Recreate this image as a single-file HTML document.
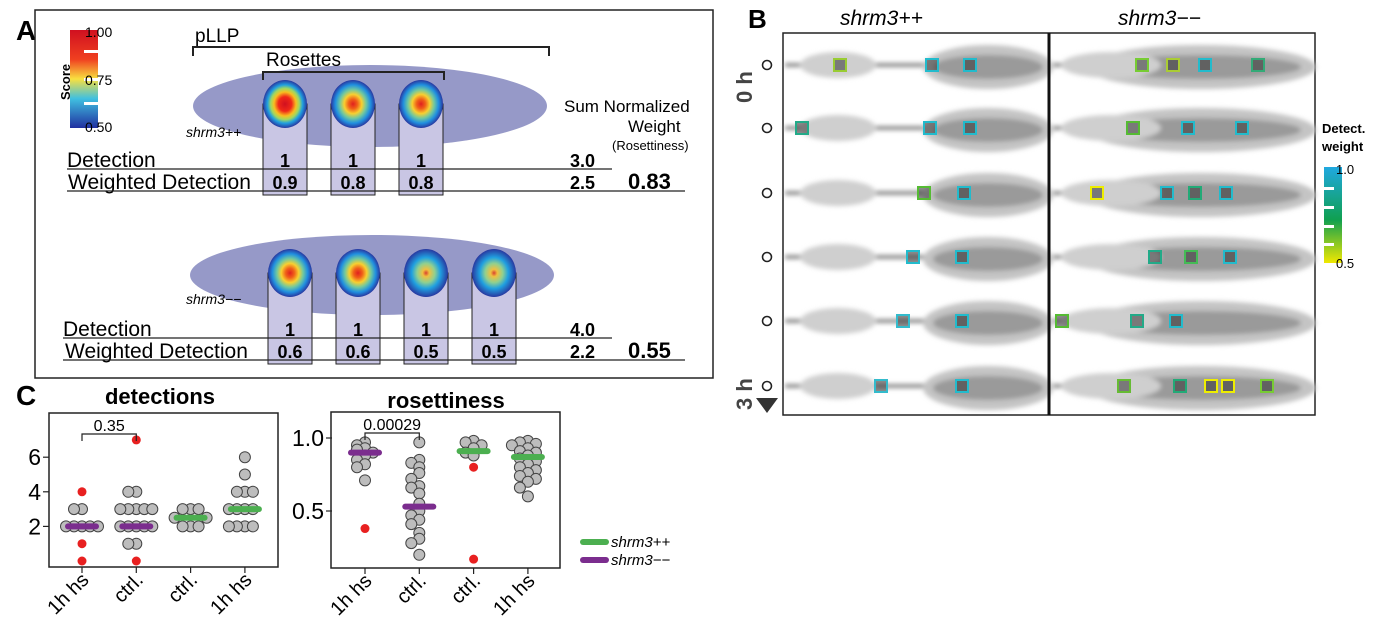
<!DOCTYPE html>
<html><head><meta charset="utf-8"><style>
body{margin:0;background:#fff}
svg{display:block;font-family:"Liberation Sans",sans-serif}
</style></head><body>
<svg id="fig" width="1383" height="626" viewBox="0 0 1383 626" xmlns="http://www.w3.org/2000/svg">
<defs>
<radialGradient id="heat" cx="50%" cy="50%" r="50%">
<stop offset="0" stop-color="#d01020"/><stop offset="0.3" stop-color="#f02818"/><stop offset="0.5" stop-color="#f8c020"/><stop offset="0.65" stop-color="#a0d860"/><stop offset="0.8" stop-color="#20a0e0"/><stop offset="1" stop-color="#2838a0"/></radialGradient>
<radialGradient id="heat2" cx="50%" cy="50%" r="50%">
<stop offset="0" stop-color="#e02020"/><stop offset="0.2" stop-color="#f06018"/><stop offset="0.4" stop-color="#f8d030"/><stop offset="0.6" stop-color="#70c8a0"/><stop offset="0.8" stop-color="#2090e0"/><stop offset="1" stop-color="#2838a0"/></radialGradient>
<radialGradient id="heat3" cx="50%" cy="50%" r="50%">
<stop offset="0" stop-color="#d84030"/><stop offset="0.15" stop-color="#f0c040"/><stop offset="0.4" stop-color="#90d090"/><stop offset="0.65" stop-color="#20a0e0"/><stop offset="1" stop-color="#2838a0"/></radialGradient>
<linearGradient id="scorebar" x1="0" y1="0" x2="0" y2="1">
<stop offset="0" stop-color="#d01020"/><stop offset="0.3" stop-color="#f04020"/><stop offset="0.5" stop-color="#f8e040"/><stop offset="0.7" stop-color="#40c0e0"/><stop offset="1" stop-color="#2030a0"/></linearGradient>
<linearGradient id="detbar" x1="0" y1="0" x2="0" y2="1">
<stop offset="0" stop-color="#20a8e0"/><stop offset="0.55" stop-color="#10a050"/><stop offset="1" stop-color="#f0e800"/></linearGradient>
<filter id="blur" x="-20%" y="-50%" width="140%" height="200%"><feGaussianBlur stdDeviation="2.5"/></filter>
</defs>

<text x="16" y="40" font-size="28" font-weight="bold">A</text>
<text x="748" y="28" font-size="26" font-weight="bold">B</text>
<text x="16" y="405" font-size="28" font-weight="bold">C</text>

<!-- Panel A -->
<g>
<rect x="35" y="10" width="678" height="368" fill="none" stroke="#222" stroke-width="1.5"/>
<ellipse cx="370" cy="106" rx="177" ry="41" fill="#9699c8"/>
<ellipse cx="372" cy="275" rx="182" ry="40" fill="#9699c8"/>
<g>
<rect x="70" y="30" width="28" height="98" fill="url(#scorebar)"/>
<rect x="84" y="50" width="14" height="3" fill="#fff"/><rect x="84" y="78" width="14" height="3" fill="#fff"/><rect x="84" y="102" width="14" height="3" fill="#fff"/>
<text x="85" y="37" font-size="14">1.00</text><text x="85" y="85" font-size="14">0.75</text><text x="85" y="132" font-size="14">0.50</text>
<text transform="translate(70,100) rotate(-90)" font-size="13" font-weight="bold">Score</text>
</g>
<text x="195" y="42" font-size="19">pLLP</text>
<path d="M193,56 V47 H549 V56" fill="none" stroke="#222" stroke-width="2"/>
<text x="266" y="66" font-size="19">Rosettes</text>
<path d="M263,80 V72 H444 V80" fill="none" stroke="#222" stroke-width="2"/>
<g id="aWT"></g><g id="aMUT"></g>
<text x="186" y="137" font-size="14" font-style="italic">shrm3++</text>
<text x="186" y="304" font-size="14" font-style="italic">shrm3−−</text>
<text x="564" y="112" font-size="17">Sum Normalized</text>
<text x="628" y="132" font-size="17">Weight</text>
<text x="612" y="150" font-size="13">(Rosettiness)</text>
<text x="67" y="167" font-size="21">Detection</text>
<line x1="67" y1="169" x2="612" y2="169" stroke="#222" stroke-width="1.2"/>
<text x="68" y="189" font-size="21">Weighted Detection</text>
<line x1="67" y1="191" x2="685" y2="191" stroke="#222" stroke-width="1.2"/>
<text x="570" y="167" font-size="18" font-weight="bold">3.0</text>
<text x="570" y="189" font-size="18" font-weight="bold">2.5</text>
<text x="628" y="189" font-size="22" font-weight="bold">0.83</text>
<text x="63" y="336" font-size="21">Detection</text>
<line x1="63" y1="338" x2="612" y2="338" stroke="#222" stroke-width="1.2"/>
<text x="65" y="358" font-size="21">Weighted Detection</text>
<line x1="63" y1="360" x2="685" y2="360" stroke="#222" stroke-width="1.2"/>
<text x="570" y="336" font-size="18" font-weight="bold">4.0</text>
<text x="570" y="358" font-size="18" font-weight="bold">2.2</text>
<text x="628" y="358" font-size="22" font-weight="bold">0.55</text>
</g>

<!-- Panel B -->
<g>
<text x="840" y="25" font-size="21" font-style="italic">shrm3++</text>
<text x="1118" y="25" font-size="21" font-style="italic">shrm3−−</text>
<rect x="783" y="33" width="532" height="382" fill="#fff" stroke="#222" stroke-width="1.5"/>
<g id="bImg"></g>
<line x1="1049" y1="33" x2="1049" y2="415" stroke="#111" stroke-width="3"/>
<g id="bLeft"></g>
<text transform="translate(752,103) rotate(-90)" font-size="22" font-weight="bold" fill="#444">0 h</text>
<text transform="translate(752,410) rotate(-90)" font-size="22" font-weight="bold" fill="#444">3 h</text>
<polygon points="756,398 778,398 767,413" fill="#333"/>
<g>
<text x="1322" y="133" font-size="13" font-weight="bold">Detect.</text>
<text x="1322" y="151" font-size="13" font-weight="bold">weight</text>
<rect x="1324" y="167" width="18" height="96" fill="url(#detbar)"/>
<rect x="1324" y="187" width="10" height="3" fill="#fff"/><rect x="1324" y="206" width="10" height="3" fill="#fff"/><rect x="1324" y="225" width="10" height="3" fill="#fff"/><rect x="1324" y="243" width="10" height="3" fill="#fff"/>
<text x="1336" y="174" font-size="13">1.0</text><text x="1336" y="268" font-size="13">0.5</text>
</g>
</g>

<!-- Panel C -->
<g id="panelC">
<text x="160" y="404" font-size="22" font-weight="bold" text-anchor="middle">detections</text>
<text x="446" y="408" font-size="22" font-weight="bold" text-anchor="middle">rosettiness</text>
<rect x="49" y="413" width="229" height="154" fill="none" stroke="#222" stroke-width="1.5"/>
<rect x="331" y="412" width="229" height="156" fill="none" stroke="#222" stroke-width="1.5"/>
<g id="cDet"></g><g id="cRos"></g>
<g>
<line x1="583" y1="542" x2="606" y2="542" stroke="#4caf50" stroke-width="6" stroke-linecap="round"/>
<text x="611" y="547" font-size="15" font-style="italic">shrm3++</text>
<line x1="583" y1="560" x2="606" y2="560" stroke="#7b2d8e" stroke-width="6" stroke-linecap="round"/>
<text x="611" y="565" font-size="15" font-style="italic">shrm3−−</text>
</g>
</g>
</svg>
<script>
const NS='http://www.w3.org/2000/svg';
function mk(tag,attrs,parent){const e=document.createElementNS(NS,tag);for(const k in attrs)e.setAttribute(k,attrs[k]);parent.appendChild(e);return e;}

const wtWeights=['0.9','0.8','0.8'];
const mutWeights=['0.6','0.6','0.5','0.5'];
function drawRosettes(g,weights,x0,step,cy,boxBottom,detY,wY,grads,label){
  weights.forEach((w,i)=>{
    const cx=x0+i*step;
    mk('rect',{x:cx-22,y:cy,width:44,height:boxBottom-cy,fill:'#c9c6e4',stroke:'#222','stroke-width':1},g);
    const c=mk('ellipse',{cx:cx,cy:cy,rx:22,ry:24,fill:'url(#'+grads[i]+')'},g);
    
    
    const t1=mk('text',{x:cx,y:detY,'font-size':18,'font-weight':'bold','text-anchor':'middle'},g);t1.textContent='1';
    const t2=mk('text',{x:cx,y:wY,'font-size':18,'font-weight':'bold','text-anchor':'middle'},g);t2.textContent=w;
  });
}
drawRosettes(document.getElementById('aWT'),wtWeights,285,68,104,195,167,189,['heat','heat2','heat2'],'wt');
drawRosettes(document.getElementById('aMUT'),mutWeights,290,68,273,364,336,358,['heat2','heat2','heat3','heat3'],'mut');

const rowY=[65,128,193,257,321,386];
const wtBoxes=[[[840,'#9c3'],[932,'#2bc'],[970,'#2bc']],[[802,'#2a8'],[930,'#2bc'],[970,'#2bc']],[[924,'#5b3'],[964,'#2bc']],[[913,'#2bc'],[962,'#2bc']],[[903,'#3bc'],[962,'#2bc']],[[881,'#3bc'],[962,'#2bc']]];
const mutBoxes=[[[1142,'#7c3'],[1173,'#ac3'],[1205,'#2bc'],[1258,'#3a7']],[[1133,'#5b3'],[1188,'#2bc'],[1242,'#2bc']],[[1097,'#ee0'],[1167,'#2bc'],[1195,'#2a7'],[1226,'#2bc']],[[1155,'#2a8'],[1191,'#4b5'],[1230,'#2bc']],[[1062,'#5b3'],[1137,'#2a8'],[1176,'#2bc']],[[1124,'#6b3'],[1180,'#2a7'],[1211,'#ee0'],[1228,'#ee0'],[1267,'#7c3']]];
const bImg=document.getElementById('bImg'),bLeft=document.getElementById('bLeft');
rowY.forEach((y,r)=>{
  [[783,1049],[1051,1315]].forEach(([a,b],k)=>{
    const g=mk('g',{filter:'url(#blur)'},bImg);
    mk('rect',{x:a+2,y:y-2,width:b-a-6,height:4,fill:'#8a8a8a'},g);
    mk('ellipse',{cx:a+(k?150:205),cy:y+2,rx:k?115:65,ry:22,fill:'#c4c4c4'},g);
    mk('ellipse',{cx:a+(k?150:205),cy:y+2,rx:k?100:55,ry:12,fill:'#9a9a9a'},g);
    mk('ellipse',{cx:a+(k?60:55),cy:y,rx:k?50:38,ry:13,fill:'#cfcfcf'},g);
  });
  const c=mk('circle',{cx:767,cy:y,r:4.5,fill:'none',stroke:'#222','stroke-width':1.6},bLeft);
  
  
  wtBoxes[r].concat(mutBoxes[r]).forEach(([x,col])=>{
    const s=mk('rect',{x:x-6,y:y-6,width:12,height:12,fill:'#333','fill-opacity':0.55,stroke:col,'stroke-width':2},bImg);
    
    
  });
});

// ---- Panel C data ----
const cats=['1h hs','ctrl.','ctrl.','1h hs'];
const detTicks=[2,4,6];
const rosTicks=[0.5,1.0];
const detGray=[[3,3,2,2,2,2,2],[4,4,3,3,3,3,3,2,2,2,2,2,1,1],[3,3,3,2,2,2,2.5,2.5],[6,5,4,4,4,3,3,3,3,2,2,2,2]];
const detRed=[[4,1,0],[7,0],[],[]];
const detMed=[2,2,2.5,3];
const rosGray=[[0.97,0.95,0.93,0.92,0.9,0.88,0.85,0.82,0.8,0.71],[0.97,0.85,0.83,0.8,0.76,0.72,0.67,0.66,0.62,0.55,0.5,0.47,0.44,0.41,0.35,0.31,0.28,0.2],[0.98,0.97,0.95,0.93,0.9,0.88],[0.98,0.97,0.96,0.95,0.93,0.91,0.9,0.88,0.86,0.84,0.82,0.8,0.78,0.76,0.74,0.72,0.7,0.66,0.6]];
const rosRed=[[0.38],[],[0.8,0.17],[]];
const rosMed=[0.9,0.53,0.91,0.87];
const medColor=['#7b2d8e','#7b2d8e','#4caf50','#4caf50'];
const detP='0.35', rosP='0.00029';

function plot(gid,x0,step,yScale,ticks,tickFmt,gray,red,med,pval,bottom,top,name){
  const g=document.getElementById(gid);
  const xs=i=>x0+i*step;
  const left=x0-33;
  ticks.forEach(t=>{
    const y=yScale(t);
    mk('line',{x1:left-6,x2:left,y1:y,y2:y,stroke:'#222','stroke-width':1.2},g);
    const tx=mk('text',{x:left-8,y:y+8,'font-size':23,'text-anchor':'end'},g);
    tx.textContent=tickFmt(t);
    
    
  });
  cats.forEach((c,i)=>{
    const x=xs(i);
    mk('line',{x1:x,x2:x,y1:bottom,y2:bottom+6,stroke:'#222','stroke-width':1.2},g);
    const t=mk('text',{transform:`translate(${x+8},${bottom+14}) rotate(-45)`,'font-size':20,'text-anchor':'end'},g);
    t.textContent=c;
    
    
    const seen={};
    gray[i].forEach(v=>{
      const key=Math.round(yScale(v)/9);
      const n=seen[key]=(seen[key]||0)+1;
      const off=[0,-1,1,-2,2,-3,3][(n-1)%7]*8;
      const p=mk('circle',{cx:x+off,cy:yScale(v),r:5.5,fill:'#bdbdbd',stroke:'#444','stroke-width':1},g);
      
      
    });
    red[i].forEach(v=>{
      const p=mk('circle',{cx:x,cy:yScale(v),r:4.5,fill:'#e82020'},g);
      
      
    });
    const m=mk('line',{x1:x-14,x2:x+14,y1:yScale(med[i]),y2:yScale(med[i]),stroke:medColor[i],'stroke-width':6,'stroke-linecap':'round'},g);
    
    
  });
  const by=top+21;
  mk('path',{d:`M${xs(0)},${by+7} V${by} H${xs(1)} V${by+7}`,fill:'none',stroke:'#222','stroke-width':1.2},g);
  const pt=mk('text',{x:(xs(0)+xs(1))/2,y:by-3,'font-size':16,'text-anchor':'middle'},g);
  pt.textContent=pval;
  
  
}
const detY=v=>561-17.3*v;
const rosY=v=>438+(1-v)*146;
plot('cDet',82,54.3,detY,detTicks,t=>String(t),detGray,detRed,detMed,detP,567,413,'det');
plot('cRos',365,54.3,rosY,rosTicks,t=>t.toFixed(1),rosGray,rosRed,rosMed,rosP,568,412,'ros');
</script>
</body></html>
